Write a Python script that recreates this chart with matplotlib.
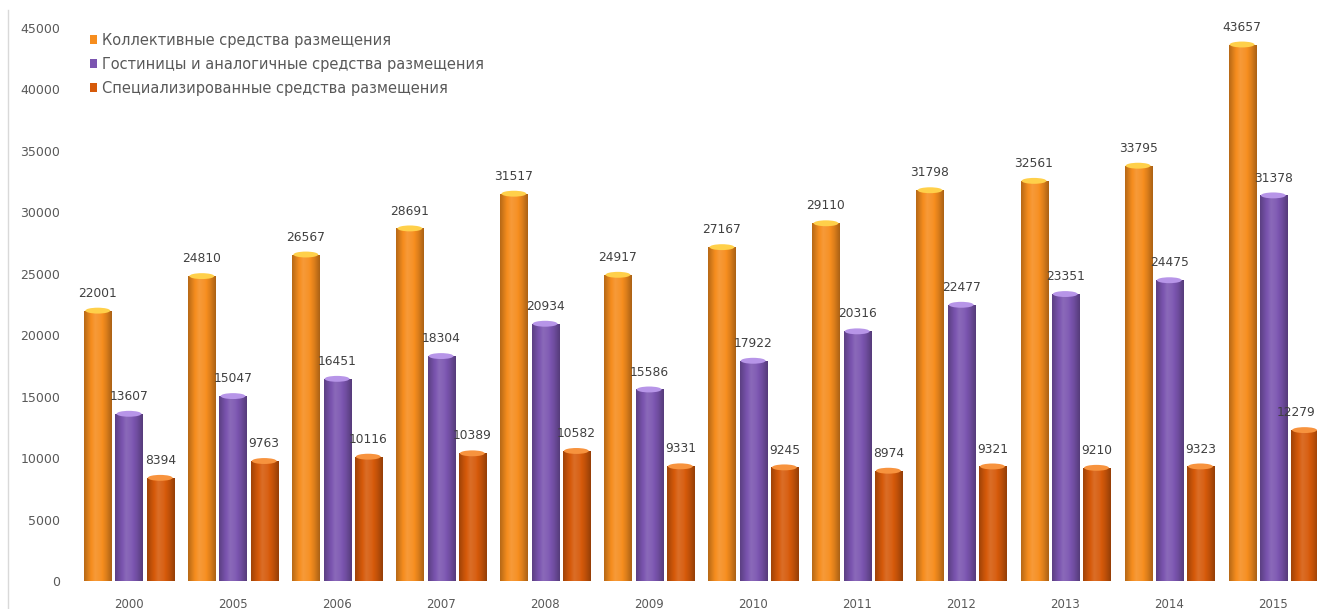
import numpy as np
import matplotlib
matplotlib.use("Agg")
import matplotlib.pyplot as plt
from matplotlib.patches import Ellipse
from matplotlib.colors import to_rgb
from matplotlib.lines import Line2D

years = ['2000', '2005', '2006', '2007', '2008', '2009', '2010',
         '2011', '2012', '2013', '2014', '2015']
collective = [22001, 24810, 26567, 28691, 31517, 24917, 27167,
              29110, 31798, 32561, 33795, 43657]
hotels = [13607, 15047, 16451, 18304, 20934, 15586, 17922,
          20316, 22477, 23351, 24475, 31378]
special = [8394, 9763, 10116, 10389, 10582, 9331, 9245,
           8974, 9321, 9210, 9323, 12279]
labels = ['Коллективные средства размещения',
          'Гостиницы и аналогичные средства размещения',
          'Специализированные средства размещения']

colors = ['#F68D1E', '#7B55B0', '#D65A0A']
caps = ['#FFD04A', '#B795E8', '#F7933E']

plt.rcParams['font.family'] = ['DejaVu Sans']

W, H = 1317, 609
fig = plt.figure(figsize=(W / 100, H / 100), dpi=100)
ax = fig.add_axes([70 / W, 28 / H, 1 - 70 / W, 553 / H])

x = np.arange(len(years))
pitch = 0.30
width = 0.26


def shade(c, f):
    c = np.array(to_rgb(c))
    if f >= 0:
        return c + (1 - c) * f
    return c * (1 + f)


for k, (vals, col, cap) in enumerate(zip([collective, hotels, special], colors, caps)):
    pos = x + (k - 1) * pitch
    bars = ax.bar(pos, vals, width, color=col, zorder=2, label=labels[k])
    # cylinder-like horizontal gradient
    prof = [-0.25, -0.05, 0.12, 0.05, -0.1, -0.3]
    grad = np.array([shade(col, f) for f in np.interp(np.linspace(0, 1, 40),
                                                       np.linspace(0, 1, len(prof)), prof)])
    for i, (b, v) in enumerate(zip(bars, vals)):
        x0 = b.get_x()
        im = ax.imshow(grad[None, :, :], extent=[x0, x0 + width, 0, v],
                       aspect='auto', zorder=2.1, interpolation='bilinear')
        im.set_clip_path(b)
        ax.add_patch(Ellipse((x0 + width / 2, v), width * 0.92, 480,
                             facecolor=cap, edgecolor='none', zorder=2.2))
        dx = -6 if (i == len(vals) - 1 and k == 2) else 0
        ax.annotate(str(v), (x0 + width / 2, v), xytext=(dx, 12.5),
                    textcoords='offset points', ha='center', va='center',
                    fontsize=8.8, color='#404040')

ax.set_xlim(-0.567, 11.42)
ax.set_ylim(0, 45000)
ax.set_yticks(np.arange(0, 45001, 5000))
ax.set_xticks(x)
ax.set_xticklabels(years)
ax.tick_params(axis='both', length=0, labelsize=8.5, colors='#595959')
ax.tick_params(axis='y', pad=7, labelsize=9)
ax.tick_params(axis='x', pad=12)
for s in ax.spines.values():
    s.set_visible(False)

fig.add_artist(Line2D([8 / W, 8 / W], [0, 1 - 10 / H], color='#D9D9D9', lw=1))

leg = fig.legend(loc='upper left', bbox_to_anchor=(84 / W, 1 - 27 / H),
                 frameon=False, fontsize=10.5, handlelength=0.5, handleheight=0.6,
                 handletextpad=0.35, labelspacing=0.62, borderaxespad=0)
for t in leg.get_texts():
    t.set_color('#595959')

fig.savefig('out.png', dpi=100)
